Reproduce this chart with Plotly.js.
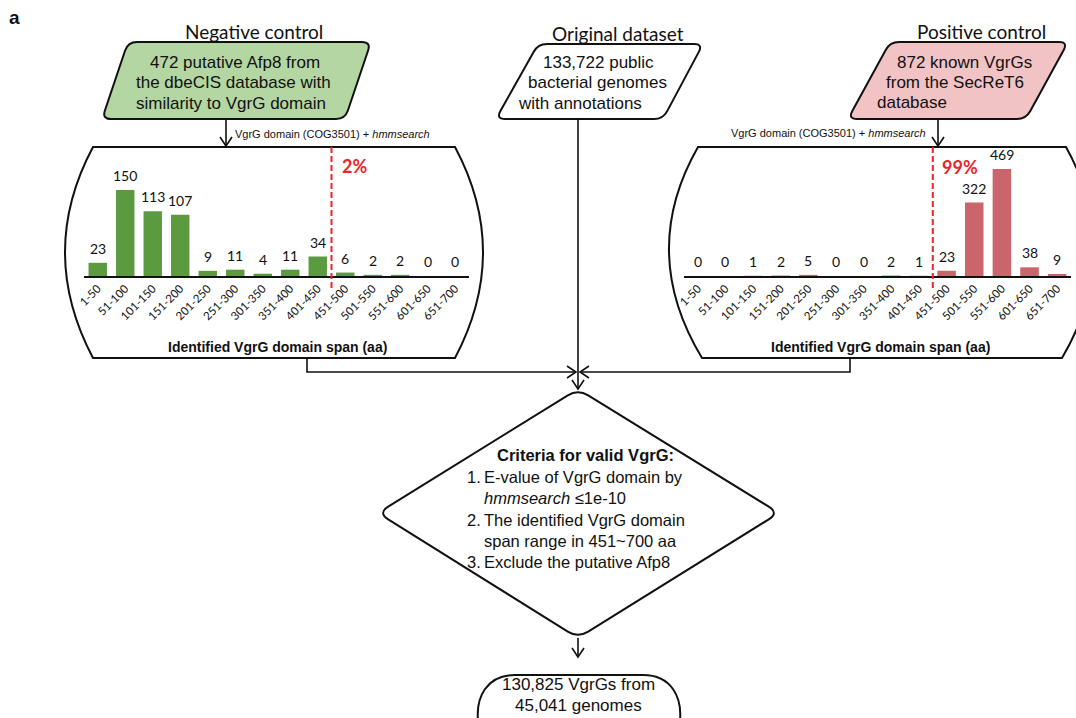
<!DOCTYPE html>
<html><head><meta charset="utf-8">
<script src="https://cdn.plot.ly/plotly-3.0.1.min.js"></script>
<style>html,body{margin:0;padding:0;background:#fff;overflow:hidden}</style>
</head><body>
<div id="chart" style="width:1076px;height:718px"></div>
<script>
// ---- data ----
const spanBins = ['1-50','51-100','101-150','151-200','201-250','251-300','301-350','351-400','401-450','451-500','501-550','551-600','601-650','651-700'];
const negativeCounts = [23,150,113,107,9,11,4,11,34,6,2,2,0,0];
const positiveCounts = [0,0,1,2,5,0,0,2,1,23,322,469,38,9];
const thresholdBin = '451-500';
const negativePct = '2%';
const positivePct = '99%';
const axisTitle = 'Identified VgrG domain span (aa)';
const negTitle = 'Negative control';
const origTitle = 'Original dataset';
const posTitle = 'Positive control';
const negLines = ['472 putative Afp8 from','the dbeCIS database with','similarity to VgrG domain'];
const origLines = ['133,722 public','bacterial genomes','with annotations'];
const posLines = ['872 known VgrGs','from the SecReT6','database'];
const stepLabel = 'VgrG domain (COG3501) + <i>hmmsearch</i>';
const criteriaTitle = '<b>Criteria for valid VgrG:</b>';
const criteriaLines = ['1.','E-value of VgrG domain by','<i>hmmsearch</i> ≤1e-10','2.','The identified VgrG domain','span range in 451~700 aa','3.','Exclude the putative Afp8'];
const resultLines = ['130,825 VgrGs from','45,041 genomes'];

// ---- layout helpers (pixel space) ----
const W = 1076, H = 718;
const ARIAL = 'Liberation Sans, Arial, sans-serif';
const CAL = 'Lato, Carlito, sans-serif';
const INK = '#111';

function toward(p, q, r){
  const dx=q[0]-p[0], dy=q[1]-p[1], L=Math.hypot(dx,dy);
  return [p[0]+dx/L*r, p[1]+dy/L*r];
}
function roundPoly(pts, r){
  let d=''; const n=pts.length;
  for(let i=0;i<n;i++){
    const p0=pts[(i-1+n)%n], p1=pts[i], p2=pts[(i+1)%n];
    const a=toward(p1,p0,r), b=toward(p1,p2,r);
    d += (i===0?'M ':'L ')+a[0].toFixed(1)+','+a[1].toFixed(1)+' Q '+p1[0]+','+p1[1]+' '+b[0].toFixed(1)+','+b[1].toFixed(1)+' ';
  }
  return d+'Z';
}
function px(path, opts){
  return Object.assign({type:'path', xref:'x3', yref:'y3', path:path, line:{color:INK, width:1.6}, fillcolor:'rgba(0,0,0,0)', layer:'above'}, opts||{});
}
function headDown(x,y){ return px(`M ${x-6},${y-9} L ${x},${y} L ${x+6},${y-9}`); }
function headRight(x,y){ return px(`M ${x-9},${y-6} L ${x},${y} L ${x-9},${y+6}`); }
function headLeft(x,y){ return px(`M ${x+9},${y-6} L ${x},${y} L ${x+9},${y+6}`); }
function line(x0,y0,x1,y1){ return px(`M ${x0},${y0} L ${x1},${y1}`); }

const shapes = [
  // parallelograms
  px(roundPoly([[128,42],[371,42],[345,119],[102,119]],9), {fillcolor:'#b3d6a2', line:{color:INK,width:2}, layer:'below'}),
  px(roundPoly([[538,44],[703,44],[663,119],[496,119]],9), {fillcolor:'#ffffff', line:{color:INK,width:2}, layer:'below'}),
  px(roundPoly([[890,42],[1068,42],[1026,119],[848,119]],9), {fillcolor:'#f2c3c4', line:{color:INK,width:2}, layer:'below'}),
  // chart barrels
  px('M 93,147 L 455,147 Q 511,252 455,358 L 93,358 Q 37,252 93,147 Z', {line:{color:INK,width:2}}),
  px('M 698,147 L 1066,147 Q 1124,252 1062,358 L 702,358 Q 638,252 698,147 Z', {line:{color:INK,width:2}}),
  // arrows into charts
  line(226,119,226,146), headDown(226,146),
  line(938,119,938,146), headDown(938,146),
  // centre
  line(578,119,578,389), headDown(578,389),
  px('M 307,358 L 307,372 L 576,372'), headRight(576,372),
  px('M 850,358 L 850,372 L 580,372'), headLeft(580,372),
  // diamond
  px(roundPoly([[578,389],[779,513],[578,638],[378,513]],12), {line:{color:INK,width:2}}),
  line(578,638,578,657), headDown(578,657),
  // terminator
  px('M 515,675 L 643,675 C 672,675 682,698 680,720 L 678,760 L 480,760 L 478,720 C 476,698 486,675 515,675 Z', {line:{color:INK,width:2}}),
  // threshold lines
  {type:'line', xref:'x', yref:'y3', x0:spanBins.indexOf(thresholdBin)-0.5, x1:spanBins.indexOf(thresholdBin)-0.5, y0:147, y1:288, line:{color:'#e8262b', width:2, dash:'6px,3px'}},
  {type:'line', xref:'x2', yref:'y3', x0:spanBins.indexOf(thresholdBin)-0.5, x1:spanBins.indexOf(thresholdBin)-0.5, y0:147, y1:288, line:{color:'#e8262b', width:2, dash:'6px,3px'}}
];

function txt(x,y,text,size,opts){
  return Object.assign({xref:'x3', yref:'y3', x:x, y:y, text:text, showarrow:false, font:{family:ARIAL, size:size, color:INK}, xanchor:'center', yanchor:'middle'}, opts||{});
}
const annotations = [];
annotations.push(txt(14,17,'<b>a</b>',19));
annotations.push(txt(254,31,negTitle,19,{font:{family:CAL,size:19,color:INK}}));
annotations.push(txt(618,33,origTitle,19,{font:{family:CAL,size:19,color:INK}}));
annotations.push(txt(981,31,posTitle,19,{font:{family:CAL,size:19,color:INK}}));
negLines.forEach((t,i)=>annotations.push(txt(235-i*2,62+i*20.5,t,17)));
[[541,62],[526,82],[516,103]].forEach((p,i)=>annotations.push(txt(p[0],p[1],origLines[i],17,{xanchor:'left'})));
[[895,62],[884,82],[875,102]].forEach((p,i)=>annotations.push(txt(p[0],p[1],posLines[i],17,{xanchor:'left'})));
annotations.push(txt(233,134,stepLabel,11,{xanchor:'left'}));
annotations.push(txt(928,133,stepLabel,11,{xanchor:'right'}));
annotations.push(txt(354,166,'<b>'+negativePct+'</b>',18,{font:{family:CAL,size:18,color:'#e8262b'}}));
annotations.push(txt(960,167,'<b>'+positivePct+'</b>',18,{font:{family:CAL,size:18,color:'#e8262b'}}));
annotations.push(txt(277,347,'<b>'+axisTitle+'</b>',14));
annotations.push(txt(880,347,'<b>'+axisTitle+'</b>',14));
annotations.push(txt(585,455,criteriaTitle,16.5));
const critPos = [[465,477],[482,477],[482,498],[465,520],[482,520],[482,541],[465,562],[482,562]];
criteriaLines.forEach((t,i)=>annotations.push(txt(critPos[i][0],critPos[i][1],t,16.5,{xanchor:'left'})));
resultLines.forEach((t,i)=>annotations.push(txt(578,684+i*21,t,17)));

// value labels from data
negativeCounts.forEach((v,i)=>annotations.push({xref:'x',yref:'y',x:spanBins[i],y:v,text:String(v),showarrow:false,yanchor:'bottom',yshift:4,font:{family:CAL,size:14,color:INK}}));
positiveCounts.forEach((v,i)=>annotations.push({xref:'x2',yref:'y2',x:spanBins[i],y:v,text:String(v),showarrow:false,yanchor:'bottom',yshift:4,font:{family:CAL,size:14,color:INK}}));

const traces = [
  {type:'bar', x:spanBins, y:negativeCounts, xaxis:'x', yaxis:'y', marker:{color:'#5b9a3f'}, hoverinfo:'x+y', showlegend:false},
  {type:'bar', x:spanBins, y:positiveCounts, xaxis:'x2', yaxis:'y2', marker:{color:'#c9656b'}, hoverinfo:'x+y', showlegend:false},
  {type:'scatter', x:[], y:[], xaxis:'x3', yaxis:'y3', hoverinfo:'skip', showlegend:false}
];

const xCommon = {type:'category', tickangle:-45, showline:true, linecolor:INK, linewidth:1.5, ticks:'', showgrid:false, zeroline:false, tickfont:{family:CAL, size:11.5, color:'#111'}, fixedrange:true};
const yCommon = {visible:false, showgrid:false, zeroline:false, fixedrange:true};

const layout = {
  width:W, height:H, margin:{l:0,r:0,t:0,b:0}, paper_bgcolor:'#fff', plot_bgcolor:'rgba(0,0,0,0)',
  bargap:0.33, showlegend:false,
  xaxis: Object.assign({}, xCommon, {domain:[84/W, 469/W], anchor:'y', range:[-0.5, spanBins.length-0.5]}),
  yaxis: Object.assign({}, yCommon, {domain:[1-276/H, 1-190/H], anchor:'x', range:[0, Math.max(...negativeCounts)]}),
  xaxis2: Object.assign({}, xCommon, {domain:[684/W, 1071/W], anchor:'y2', range:[-0.5, spanBins.length-0.5]}),
  yaxis2: Object.assign({}, yCommon, {domain:[1-276/H, 1-169/H], anchor:'x2', range:[0, Math.max(...positiveCounts)]}),
  xaxis3: {domain:[0,1], range:[0,W], visible:false, anchor:'y3', fixedrange:true},
  yaxis3: {domain:[0,1], range:[H,0], visible:false, anchor:'x3', fixedrange:true},
  shapes: shapes,
  annotations: annotations
};
Plotly.newPlot('chart', traces, layout, {displayModeBar:false, staticPlot:true});
</script>
</body></html>
